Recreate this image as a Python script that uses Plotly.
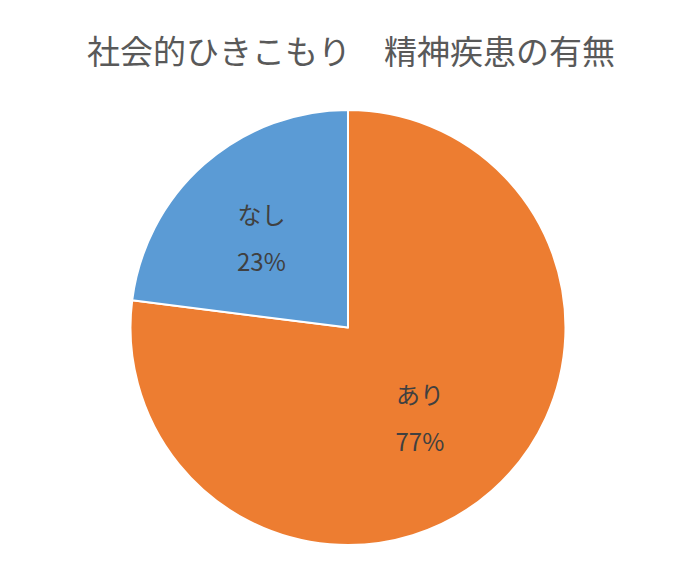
import plotly.graph_objects as go

title_text = "社会的ひきこもり　精神疾患の有無"
categories = ["あり", "なし"]
values = [77, 23]
colors = ["#ED7D31", "#5B9BD5"]

NB = "\u00a0"
domain = dict(x=[0.1743, 0.7971], y=[0.0562, 0.8207])
font = dict(family="Noto Sans CJK JP", size=24, color="#404040")

# Slices with category label (shifted up half a line)
fig = go.Figure(go.Pie(
    labels=categories,
    values=values,
    sort=False,
    direction="clockwise",
    rotation=0,
    marker=dict(colors=colors, line=dict(color="white", width=2)),
    texttemplate="%{label}<br>" + NB,
    textposition="inside",
    insidetextorientation="horizontal",
    textfont=font,
    showlegend=False,
    hoverinfo="label+percent",
    domain=domain,
))

# Transparent overlay carrying the percentage (shifted down)
fig.add_trace(go.Pie(
    labels=categories,
    values=values,
    sort=False,
    direction="clockwise",
    rotation=0,
    marker=dict(colors=["rgba(0,0,0,0)"] * len(values), line=dict(width=0)),
    texttemplate=NB + "<br>" + NB + "<br>%{percent:.0%}",
    textposition="inside",
    insidetextorientation="horizontal",
    textfont=font,
    showlegend=False,
    hoverinfo="skip",
    domain=domain,
))

fig.update_layout(
    width=700, height=569,
    margin=dict(l=0, r=0, t=0, b=0),
    paper_bgcolor="white",
    title=dict(text=title_text, x=0.49, xanchor="center", y=0.922, yanchor="middle",
               font=dict(family="Noto Sans CJK JP", size=33, color="#595959")),
)

fig.write_html("out.html")
